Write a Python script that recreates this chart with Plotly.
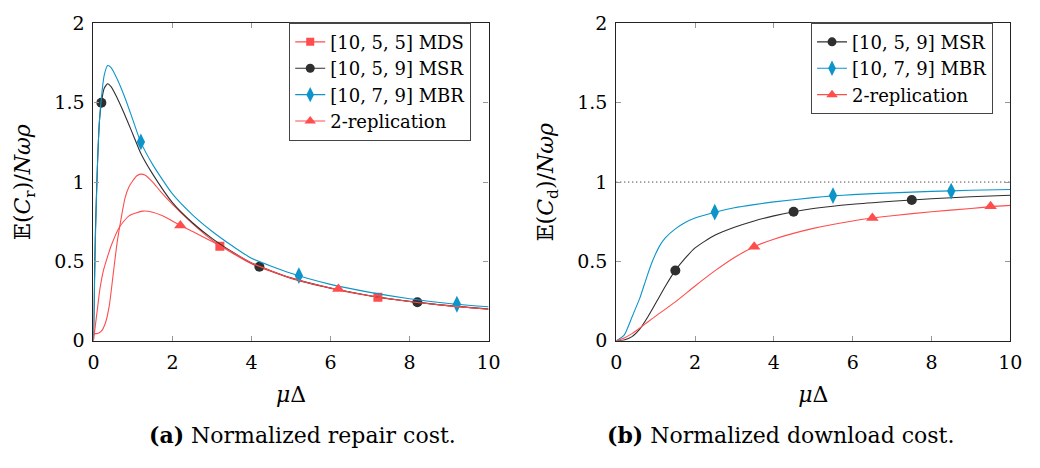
import plotly.graph_objects as go

# ---------------- data ----------------
# Left: normalized repair cost
mds_x = [0, 0.1, 0.2, 0.3, 0.4, 0.5, 0.6, 0.7, 0.8, 0.9, 1.0, 1.1, 1.2, 1.3, 1.5, 1.7, 2.0, 2.5, 3.0, 3.5, 4.0, 5.0, 6.0, 7.0, 8.0, 9.0, 10.0]
mds_y = [0.045, 0.046, 0.06, 0.11, 0.22, 0.42, 0.62, 0.77, 0.90, 0.97, 1.01, 1.04, 1.05, 1.045, 1.0, 0.94, 0.86, 0.74, 0.635, 0.555, 0.485, 0.392, 0.33, 0.282, 0.247, 0.22, 0.198]
mds_mx = [3.2, 7.2]
mds_my = [0.596, 0.274]

msr_x = [0, 0.02, 0.05, 0.1, 0.15, 0.2, 0.27, 0.36, 0.45, 0.6, 0.8, 1.0, 1.2, 1.5, 2.0, 2.5, 3.0, 3.5, 4.0, 5.0, 6.0, 7.0, 8.0, 9.0, 10.0]
msr_y = [0, 0.3, 0.7, 1.1, 1.38, 1.5, 1.59, 1.62, 1.60, 1.53, 1.42, 1.30, 1.18, 1.05, 0.87, 0.745, 0.645, 0.562, 0.49, 0.396, 0.332, 0.284, 0.248, 0.221, 0.2]
msr_mx = [0.2, 4.2, 8.2]
msr_my = [1.5, 0.466, 0.242]

mbr_x = [0, 0.02, 0.05, 0.1, 0.15, 0.2, 0.27, 0.36, 0.45, 0.6, 0.8, 1.0, 1.2, 1.5, 2.0, 2.5, 3.0, 3.5, 4.0, 5.0, 6.0, 7.0, 8.0, 9.0, 10.0]
mbr_y = [0, 0.25, 0.65, 1.1, 1.38, 1.53, 1.67, 1.734, 1.72, 1.65, 1.53, 1.39, 1.25, 1.11, 0.925, 0.795, 0.69, 0.60, 0.52, 0.425, 0.355, 0.305, 0.265, 0.235, 0.214]
mbr_mx = [1.2, 5.2, 9.2]
mbr_my = [1.253, 0.41, 0.23]

rep_x = [0, 0.05, 0.1, 0.16, 0.25, 0.32, 0.45, 0.66, 0.9, 1.25, 1.5, 1.75, 2.2, 2.5, 3.0, 3.5, 4.0, 5.0, 6.0, 7.0, 8.0, 9.0, 10.0]
rep_y = [0, 0.1, 0.2, 0.32, 0.44, 0.50, 0.60, 0.717, 0.787, 0.817, 0.81, 0.787, 0.727, 0.69, 0.625, 0.56, 0.49, 0.395, 0.332, 0.283, 0.247, 0.22, 0.198]
rep_mx = [2.2, 6.2]
rep_my = [0.727, 0.326]

# Right: normalized download cost
d_msr_x = [0, 0.2, 0.4, 0.6, 0.8, 1.0, 1.25, 1.5, 1.75, 2.0, 2.5, 3.0, 3.5, 4.0, 4.5, 5.0, 6.0, 7.0, 8.0, 9.0, 10.0]
d_msr_y = [0, 0.005, 0.026, 0.075, 0.15, 0.236, 0.345, 0.443, 0.52, 0.585, 0.665, 0.715, 0.755, 0.787, 0.813, 0.833, 0.86, 0.879, 0.895, 0.907, 0.917]
d_msr_mx = [1.5, 4.5, 7.5]
d_msr_my = [0.443, 0.813, 0.887]

d_mbr_x = [0, 0.2, 0.4, 0.6, 0.7, 0.8, 0.9, 1.0, 1.1, 1.25, 1.5, 1.75, 2.0, 2.5, 3.0, 3.5, 4.0, 5.0, 5.5, 6.0, 7.0, 8.0, 9.0, 10.0]
d_mbr_y = [0, 0.035, 0.15, 0.27, 0.345, 0.42, 0.49, 0.548, 0.598, 0.65, 0.705, 0.745, 0.773, 0.81, 0.838, 0.858, 0.875, 0.902, 0.913, 0.921, 0.932, 0.941, 0.948, 0.953]
d_mbr_mx = [2.5, 5.5, 8.5]
d_mbr_my = [0.81, 0.915, 0.943]

d_rep_x = [0, 0.2, 0.4, 0.6, 0.8, 1.0, 1.5, 2.0, 2.5, 3.0, 3.5, 4.0, 5.0, 6.0, 6.5, 7.0, 8.0, 9.0, 9.5, 10.0]
d_rep_y = [0, 0.018, 0.045, 0.08, 0.118, 0.155, 0.245, 0.345, 0.44, 0.525, 0.593, 0.64, 0.708, 0.755, 0.773, 0.788, 0.813, 0.833, 0.845, 0.853]
d_rep_mx = [3.5, 6.5, 9.5]
d_rep_my = [0.593, 0.773, 0.847]

ref_x = [0, 10]
ref_y = [1, 1]

x_ticks = [0, 2, 4, 6, 8, 10]
y_ticks = [0, 0.5, 1, 1.5, 2]
y_tick_text = ["0", "0.5", "1", "1.5", "2"]

# ---------------- styles ----------------
RED = "#ff4d4d"
BLACK = "#2f2f2f"
BLUE = "#0d95c9"
FONT = "DejaVu Serif"

fig = go.Figure()


def add_series(x, y, mx, my, color, symbol, msize, name, xa, ya, legend):
    fig.add_trace(go.Scatter(x=x, y=y, mode="lines", line=dict(color=color, width=1.1, shape="spline", smoothing=0.6),
                             xaxis=xa, yaxis=ya, showlegend=False, hoverinfo="skip"))
    fig.add_trace(go.Scatter(x=mx, y=my, mode="markers",
                             marker=dict(color=color, symbol=symbol, size=msize, line=dict(width=0)),
                             xaxis=xa, yaxis=ya, showlegend=False, hoverinfo="skip"))
    fig.add_trace(go.Scatter(x=[None], y=[None], mode="lines+markers", name=name,
                             line=dict(color=color, width=1.1),
                             marker=dict(color=color, symbol=symbol, size=msize - 1, line=dict(width=0)),
                             xaxis=xa, yaxis=ya, legend=legend))


add_series(mds_x, mds_y, mds_mx, mds_my, RED, "square", 9, "[10, 5, 5] MDS", "x", "y", "legend")
add_series(msr_x, msr_y, msr_mx, msr_my, BLACK, "circle", 10, "[10, 5, 9] MSR", "x", "y", "legend")
add_series(mbr_x, mbr_y, mbr_mx, mbr_my, BLUE, "diamond-tall", 12, "[10, 7, 9] MBR", "x", "y", "legend")
add_series(rep_x, rep_y, rep_mx, rep_my, RED, "triangle-up", 11, "2-replication", "x", "y", "legend")

fig.add_trace(go.Scatter(x=ref_x, y=ref_y, mode="lines", line=dict(color="#111", width=1, dash="1px,3px"),
                         xaxis="x2", yaxis="y2", showlegend=False, hoverinfo="skip"))
add_series(d_msr_x, d_msr_y, d_msr_mx, d_msr_my, BLACK, "circle", 10, "[10, 5, 9] MSR", "x2", "y2", "legend2")
add_series(d_mbr_x, d_mbr_y, d_mbr_mx, d_mbr_my, BLUE, "diamond-tall", 12, "[10, 7, 9] MBR", "x2", "y2", "legend2")
add_series(d_rep_x, d_rep_y, d_rep_mx, d_rep_my, RED, "triangle-up", 11, "2-replication", "x2", "y2", "legend2")

W, H = 1040, 468
left_dom = [89 / W, 491 / W]
right_dom = [621 / W, 1022 / W]
y_dom = [1 - 346 / H, 1 - 13 / H]

axis_common = dict(showline=True, linecolor="#222", linewidth=1.2, mirror="allticks", ticks="inside",
                   ticklen=5, tickcolor="#999", tickwidth=1, showgrid=False, zeroline=False,
                   tickfont=dict(family=FONT, size=19, color="black"))

fig.update_layout(
    width=W, height=H, margin=dict(l=0, r=0, t=0, b=0),
    paper_bgcolor="white", plot_bgcolor="white",
    font=dict(family=FONT, color="black"),
    xaxis=dict(domain=left_dom, anchor="y", range=[0, 10], tickvals=x_ticks, ticklabelstandoff=4,
               title=dict(text="<i>μ</i>Δ", font=dict(family=FONT, size=22), standoff=14), **axis_common),
    yaxis=dict(domain=y_dom, anchor="x", range=[0, 2], tickvals=y_ticks, ticktext=y_tick_text, ticklabelstandoff=4,
               title=dict(text="𝔼(<i>C</i><sub>r</sub>)/<i>Nωρ</i>", font=dict(family=FONT, size=22), standoff=17),
               **axis_common),
    xaxis2=dict(domain=right_dom, anchor="y2", range=[0, 10], tickvals=x_ticks, ticklabelstandoff=4,
                title=dict(text="<i>μ</i>Δ", font=dict(family=FONT, size=22), standoff=14), **axis_common),
    yaxis2=dict(domain=y_dom, anchor="x2", range=[0, 2], tickvals=y_ticks, ticktext=y_tick_text, ticklabelstandoff=4,
                title=dict(text="𝔼(<i>C</i><sub>d</sub>)/<i>Nωρ</i>", font=dict(family=FONT, size=22), standoff=17),
                **axis_common),
    legend=dict(x=288 / W, y=1 - 12 / H, xanchor="left", yanchor="top", bgcolor="white",
                bordercolor="#444", borderwidth=1.2, font=dict(family=FONT, size=18, color="black"),
                itemwidth=30, tracegroupgap=0),
    legend2=dict(x=819 / W, y=1 - 12 / H, xanchor="left", yanchor="top", bgcolor="white",
                 bordercolor="#444", borderwidth=1.2, font=dict(family=FONT, size=18, color="black"),
                 itemwidth=30, tracegroupgap=0),
    showlegend=True,
)

fig.add_annotation(x=302 / W, y=1 - 445 / H, xref="paper", yref="paper", showarrow=False,
                   xanchor="center", yanchor="middle",
                   text="<b>(a)</b> Normalized repair cost.", font=dict(family=FONT, size=22, color="black"))
fig.add_annotation(x=788 / W, y=1 - 445 / H, xref="paper", yref="paper", showarrow=False,
                   xanchor="center", yanchor="middle",
                   text="<b>(b)</b> Normalized download cost.", font=dict(family=FONT, size=22, color="black"))

fig.write_html("out.html")
